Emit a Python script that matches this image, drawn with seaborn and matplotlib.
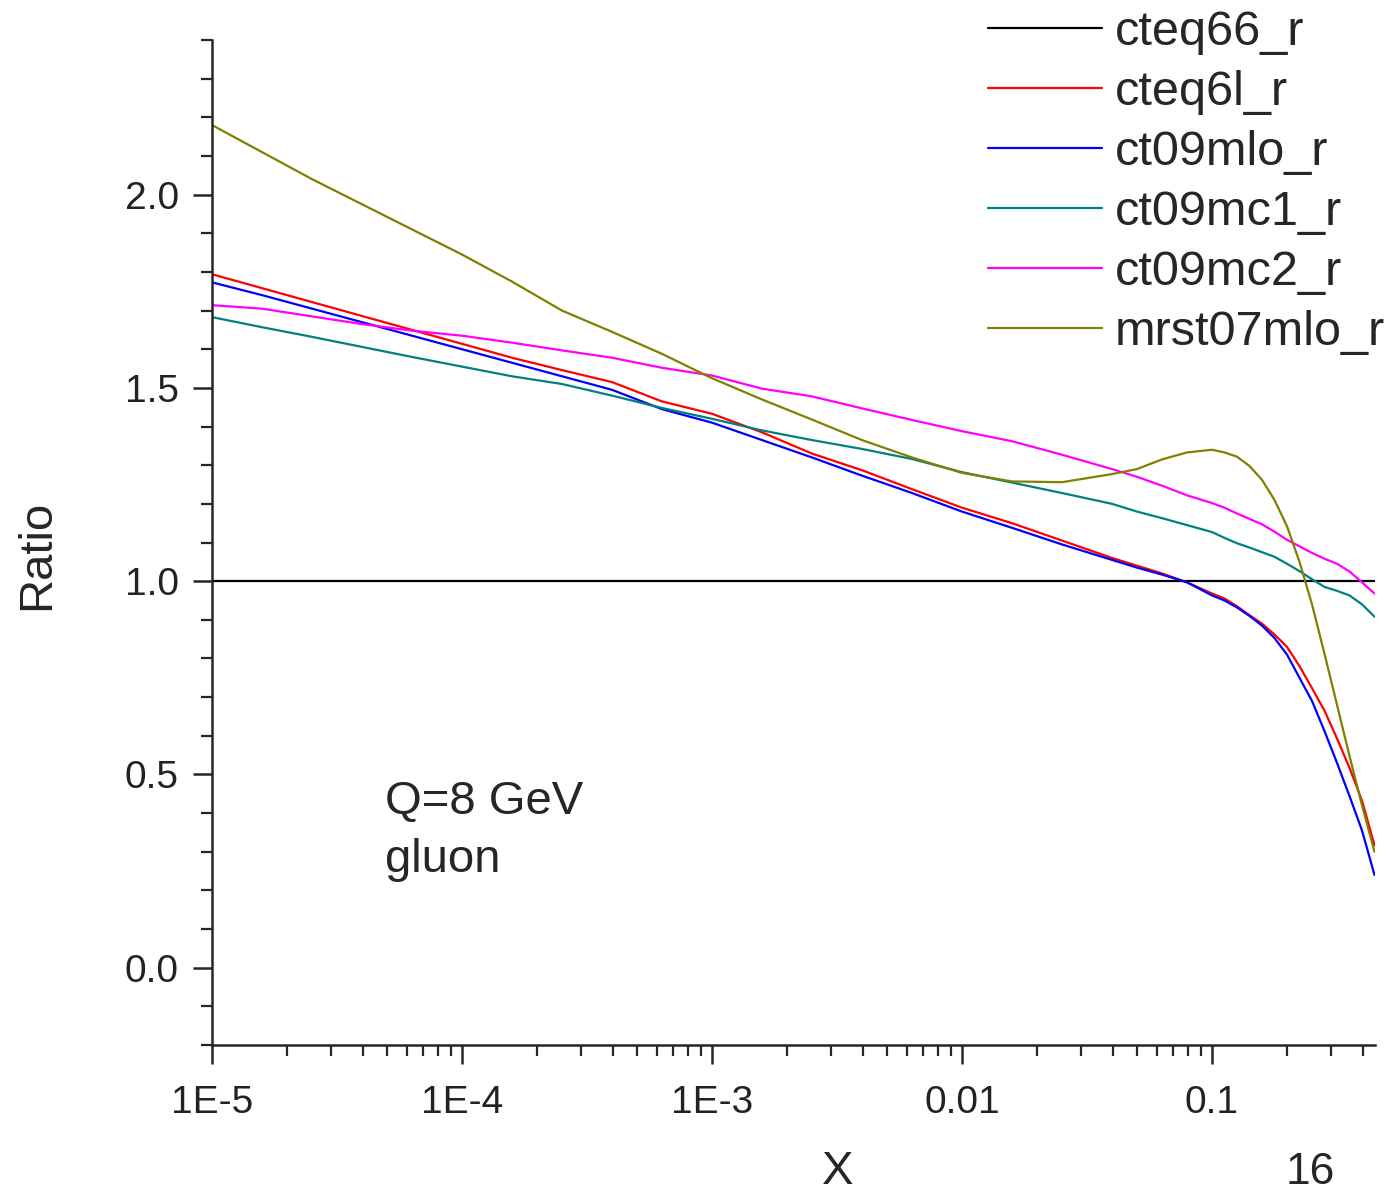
import numpy as np
import pandas as pd
import seaborn as sns
import matplotlib.pyplot as plt

# log10(x) grid the curves were read at
log_x = [-5.0, -4.8, -4.6, -4.4, -4.2, -4.0, -3.8, -3.6, -3.4, -3.2, -3.0,
         -2.8, -2.6, -2.4, -2.2, -2.0, -1.8, -1.6, -1.4, -1.3, -1.2, -1.1,
         -1.0, -0.95, -0.9, -0.85, -0.8, -0.75, -0.7, -0.65, -0.6, -0.55,
         -0.5, -0.45, -0.4, -0.35]

cteq66_r = [1.0] * len(log_x)
cteq6l_r = [1.794, 1.758, 1.722, 1.686, 1.650, 1.614, 1.578, 1.546, 1.515, 1.465,
            1.433, 1.385, 1.330, 1.287, 1.238, 1.190, 1.150, 1.105, 1.060,
            1.040, 1.020, 0.997,
            0.968, 0.955, 0.935, 0.912, 0.890, 0.862, 0.830, 0.780, 0.723, 0.665,
            0.593, 0.517, 0.432, 0.317]
ct09mlo_r = [1.773, 1.740, 1.705, 1.670, 1.635, 1.600, 1.565, 1.530, 1.495, 1.445,
             1.410, 1.365, 1.320, 1.273, 1.228, 1.180, 1.138, 1.095, 1.055,
             1.035, 1.017, 0.997,
             0.963, 0.950, 0.932, 0.910, 0.885, 0.853, 0.810, 0.750, 0.690, 0.612,
             0.530, 0.444, 0.355, 0.240]
ct09mc1_r = [1.683, 1.657, 1.632, 1.606, 1.580, 1.555, 1.530, 1.510, 1.480, 1.448,
             1.420, 1.390, 1.365, 1.342, 1.316, 1.282, 1.255, 1.228, 1.200,
             1.180, 1.163, 1.145,
             1.127, 1.112, 1.098, 1.087, 1.075, 1.063, 1.045, 1.026, 1.005, 0.985,
             0.975, 0.963, 0.940, 0.908]
ct09mc2_r = [1.714, 1.705, 1.685, 1.665, 1.648, 1.635, 1.617, 1.597, 1.578, 1.552,
             1.532, 1.498, 1.478, 1.447, 1.417, 1.388, 1.362, 1.327, 1.290,
             1.270, 1.247, 1.222,
             1.202, 1.190, 1.175, 1.161, 1.147, 1.128, 1.107, 1.090, 1.073, 1.058,
             1.045, 1.025, 0.997, 0.968]
mrst07mlo_r = [2.180, 2.110, 2.040, 1.975, 1.910, 1.845, 1.775, 1.700, 1.645, 1.588,
               1.525, 1.470, 1.418, 1.365, 1.320, 1.280, 1.258, 1.256, 1.277,
               1.290, 1.315, 1.333,
               1.340, 1.333, 1.322, 1.298, 1.262, 1.210, 1.142, 1.050, 0.940, 0.812,
               0.680, 0.548, 0.420, 0.300]

names = ["cteq66_r", "cteq6l_r", "ct09mlo_r", "ct09mc1_r", "ct09mc2_r", "mrst07mlo_r"]
series = [cteq66_r, cteq6l_r, ct09mlo_r, ct09mc1_r, ct09mc2_r, mrst07mlo_r]
colors = ["#000000", "#ff0000", "#0000ff", "#008080", "#ff00ff", "#808000"]

x_vals = 10 ** np.array(log_x)
df = pd.concat([pd.DataFrame({"X": x_vals, "Ratio": s, "set": n})
                for n, s in zip(names, series)], ignore_index=True)

sns.set_style("ticks")
plt.rcParams['font.family'] = ['Liberation Sans', 'DejaVu Sans']

fig = plt.figure(figsize=(13.84, 11.94), dpi=100)
ax = fig.add_axes([212 / 1384, 1 - 1045 / 1194, 1163 / 1384, 1005 / 1194])

sns.lineplot(data=df, x="X", y="Ratio", hue="set", hue_order=names,
             palette=dict(zip(names, colors)), estimator=None, sort=False,
             linewidth=1.6, ax=ax)

ax.set_xscale("log")
ax.set_xlim(1e-5, 10 ** -0.348)
ax.set_ylim(-0.2, 2.4)

ax.set_xticks([1e-5, 1e-4, 1e-3, 1e-2, 1e-1])
ax.set_xticklabels(["1E-5", "1E-4", "1E-3", "0.01", "0.1"])
ax.set_yticks([0.0, 0.5, 1.0, 1.5, 2.0])
ax.set_yticklabels(["0.0", "0.5", "1.0", "1.5", "2.0"])
ax.set_yticks(np.arange(-0.2, 2.41, 0.1), minor=True)
ax.xaxis.set_minor_locator(plt.matplotlib.ticker.LogLocator(base=10, subs=np.arange(2, 10)))
ax.xaxis.set_minor_formatter(plt.NullFormatter())

ax.tick_params(which="major", direction="out", length=14, width=1.8,
               labelsize=28, labelcolor="#222222")
ax.tick_params(which="minor", direction="out", length=8, width=1.6)
ax.tick_params(axis="x", which="major", pad=15)
ax.tick_params(axis="y", which="major", pad=10)
for side in ["top", "right"]:
    ax.spines[side].set_visible(False)
for side in ["left", "bottom"]:
    ax.spines[side].set_linewidth(1.8)

ax.set_xlabel("")
ax.set_ylabel("")
fig.text(37 / 1384, 1 - 555 / 1194, "Ratio", rotation=90, ha="center", va="center", fontsize=34)
fig.text(838 / 1384, 1 - 1172 / 1194, "X", ha="center", va="center", fontsize=34)
fig.text(1310 / 1384, 1 - 1172 / 1194, "16", ha="center", va="center", fontsize=32)

ax.text((385 - 212) / 1163, (1045 - 814) / 1005, "Q=8 GeV", transform=ax.transAxes,
        fontsize=34, va="baseline")
ax.text((385 - 212) / 1163, (1045 - 872) / 1005, "gluon", transform=ax.transAxes,
        fontsize=34, va="baseline")

handles, labels = ax.get_legend_handles_labels()
ax.get_legend().remove()
fig.legend(handles, labels, loc="upper left", bbox_to_anchor=(988 / 1384, 1 - 10 / 1194),
           frameon=False, fontsize=35, handlelength=2.35, handletextpad=0.25,
           labelspacing=0.31, borderpad=0, borderaxespad=0)

fig.savefig("out.png", dpi=100)
